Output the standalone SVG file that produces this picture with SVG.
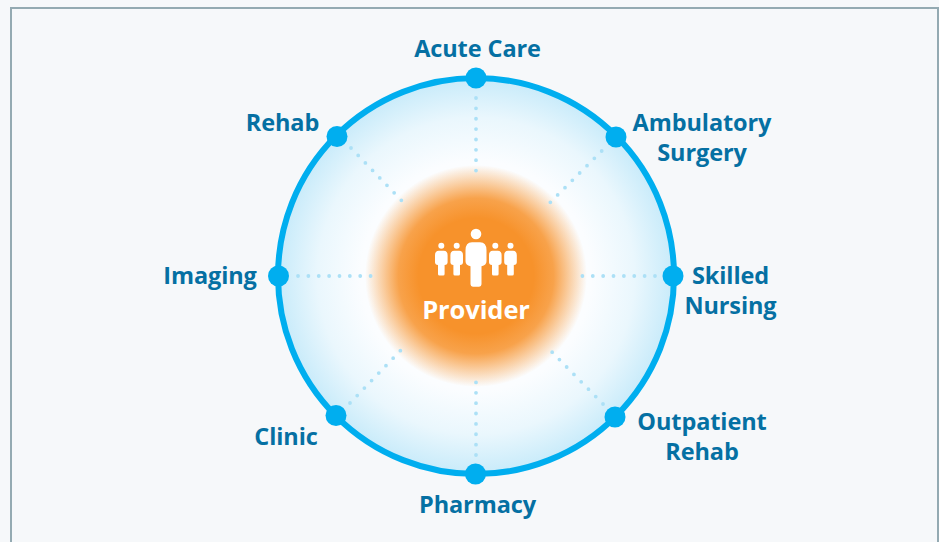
<svg xmlns="http://www.w3.org/2000/svg" width="939" height="542" viewBox="0 0 939 542">
<style>
.l{font-family:"Open Sans","Liberation Sans",sans-serif;font-weight:700;font-size:23.500px;fill:#0570a3;text-anchor:middle;letter-spacing:-.1px}
.d{fill:none;stroke:#ace0f6;stroke-width:3.800;stroke-linecap:round;stroke-dasharray:0 10.37}
.n{fill:#00aeef}
</style>
<defs>
<radialGradient id="disc" gradientUnits="userSpaceOnUse" cx="476" cy="276" r="198">
<stop offset="0" stop-color="#ffffff"/><stop offset="0.58" stop-color="#fbfdff"/><stop offset="0.8" stop-color="#eaf7fd"/><stop offset="1" stop-color="#c8ebfa"/>
</radialGradient>
<radialGradient id="core" gradientUnits="userSpaceOnUse" cx="476" cy="276" r="111">
<stop offset="0" stop-color="#f7922b"/><stop offset="0.52" stop-color="#f7922b"/><stop offset="0.7" stop-color="#f7922b" stop-opacity=".85"/><stop offset="0.85" stop-color="#f7922b" stop-opacity=".42"/><stop offset="1" stop-color="#f7922b" stop-opacity="0"/>
</radialGradient>
<path id="s" d="M-2.500 0h5q3.800 0 3.800 4.500v7q0 2.500-3 2.800v9q0 1.500-1.500 1.500h-3.600q-1.500 0-1.500-1.500v-9q-3-.3-3-2.800v-7q0-4.500 3.800-4.500z"/>
</defs>
<rect x="0" y="0" width="939" height="542" fill="#f6f8fa"/>
<rect x="11" y="8" width="927" height="540" fill="#f6f8fa" stroke="#94aab2" stroke-width="2"/>
<g id="hub-disc">
<circle cx="476" cy="276" r="198" fill="url(#disc)" stroke="#00aeef" stroke-width="6"/>
<circle cx="476" cy="276" r="111" fill="url(#core)"/>
</g>
<g id="connectors">
<path class="d" d="M476 98V172"/>
<path class="d" d="M601.700 151L550.300 202.300"/>
<path class="d" d="M655 276H580"/>
<path class="d" d="M603 404L550 350"/>
<path class="d" d="M476 455V380"/>
<path class="d" d="M350 403L402 349"/>
<path class="d" d="M298 276H372"/>
<path class="d" d="M351 148L403 202"/>
</g>
<g id="provider">
<g fill="#fff">
<circle cx="476" cy="234" r="5.300"/><path d="M472 242.300h8q6.500 0 6.500 8v11q0 4-5 5v18q0 2.400-2.400 2.400h-6.200q-2.400 0-2.400-2.400v-18q-5-1-5-5v-11q0-8 6.500-8z"/>
<circle cx="441.300" cy="245.700" r="3"/><use href="#s" x="441.300" y="250.700"/>
<circle cx="456.700" cy="245.700" r="3"/><use href="#s" x="456.700" y="250.700"/>
<circle cx="495.300" cy="245.700" r="3"/><use href="#s" x="495.300" y="250.700"/>
<circle cx="510.500" cy="245.700" r="3"/><use href="#s" x="510.500" y="250.700"/>
</g>
<text x="476" y="318.500" class="l" style="fill:#fff;font-size:25.500px">Provider</text>
</g>
<g id="acute-care"><circle class="n" cx="476" cy="78" r="10.500"/><text x="477.500" y="56.500" class="l">Acute Care</text></g>
<g id="ambulatory-surgery"><circle class="n" cx="616" cy="137" r="10.500"/><text x="702" y="131" class="l">Ambulatory</text><text x="702" y="160.500" class="l">Surgery</text></g>
<g id="skilled-nursing"><circle class="n" cx="673" cy="276" r="10.500"/><text x="730.500" y="283.500" class="l">Skilled</text><text x="730.500" y="313.500" class="l">Nursing</text></g>
<g id="outpatient-rehab"><circle class="n" cx="615" cy="417" r="10.500"/><text x="702" y="430" class="l">Outpatient</text><text x="702" y="460" class="l">Rehab</text></g>
<g id="pharmacy"><circle class="n" cx="475.500" cy="474" r="10.500"/><text x="477.500" y="512.500" class="l">Pharmacy</text></g>
<g id="clinic"><circle class="n" cx="336" cy="415.500" r="10.500"/><text x="286" y="445" class="l">Clinic</text></g>
<g id="imaging"><circle class="n" cx="278.500" cy="276" r="10.500"/><text x="210" y="283.500" class="l">Imaging</text></g>
<g id="rehab"><circle class="n" cx="337" cy="136.500" r="10.500"/><text x="282.500" y="130.500" class="l">Rehab</text></g>
</svg>
